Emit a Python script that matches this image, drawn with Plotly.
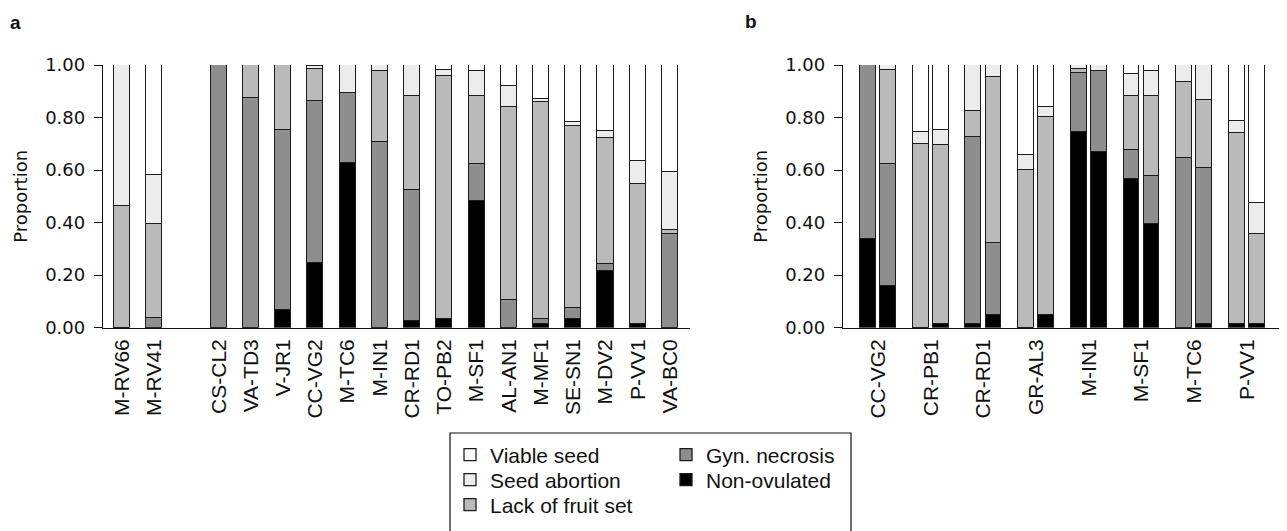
import plotly.graph_objects as go

# ---------------------------------------------------------------------------
# data (proportions of flowers per fate; segments stack bottom -> top)
# ---------------------------------------------------------------------------
SERIES = ["Non-ovulated", "Gyn. necrosis", "Lack of fruit set", "Seed abortion", "Viable seed"]
COLORS = ["#000000", "#8e8e8e", "#bababa", "#ececec", "#ffffff"]

# panel a: two groups separated by an empty slot
A_GROUP1 = ["M-RV66", "M-RV41"]
A_GROUP2 = ["CS-CL2", "VA-TD3", "V-JR1", "CC-VG2", "M-TC6", "M-IN1", "CR-RD1", "TO-PB2",
            "M-SF1", "AL-AN1", "M-MF1", "SE-SN1", "M-DV2", "P-VV1", "VA-BC0"]

a_non_ovulated = [0, 0, 0, 0, 0.067, 0.246, 0.626, 0, 0.027, 0.034, 0.483, 0, 0.014, 0.034, 0.216, 0.014, 0]
a_gyn_necrosis = [0, 0.038, 1.0, 0.876, 0.684, 0.616, 0.269, 0.707, 0.498, 0, 0.141, 0.107, 0.020, 0.042, 0.028, 0, 0.358]
a_lack_fruit = [0.465, 0.355, 0, 0.124, 0.249, 0.124, 0, 0.269, 0.358, 0.924, 0.258, 0.733, 0.826, 0.690, 0.479, 0.532, 0.013]
a_seed_abort = [0.535, 0.187, 0, 0, 0, 0.009, 0.105, 0.024, 0.117, 0.023, 0.096, 0.081, 0.010, 0.018, 0.026, 0.089, 0.223]
a_viable = [0, 0.420, 0, 0, 0, 0.005, 0, 0, 0, 0.019, 0.022, 0.079, 0.130, 0.216, 0.251, 0.365, 0.406]

# panel b: each population has two bars (first / second)
B_CATS = ["CC-VG2", "CR-PB1", "CR-RD1", "GR-AL3", "M-IN1", "M-SF1", "M-TC6", "P-VV1"]

b1_non_ovulated = [0.339, 0, 0.014, 0, 0.745, 0.567, 0, 0.016]
b1_gyn_necrosis = [0.661, 0, 0.712, 0, 0.223, 0.109, 0.645, 0]
b1_lack_fruit = [0, 0.700, 0.098, 0.600, 0.017, 0.207, 0.289, 0.726]
b1_seed_abort = [0, 0.044, 0.176, 0.059, 0.015, 0.081, 0.066, 0.044]
b1_viable = [0, 0.256, 0, 0.341, 0, 0.036, 0, 0.214]

b2_non_ovulated = [0.159, 0.014, 0.047, 0.047, 0.669, 0.396, 0.016, 0.016]
b2_gyn_necrosis = [0.465, 0, 0.274, 0, 0.307, 0.181, 0.591, 0]
b2_lack_fruit = [0.356, 0.680, 0.632, 0.756, 0, 0.306, 0.261, 0.339]
b2_seed_abort = [0.020, 0.060, 0.047, 0.036, 0.024, 0.093, 0.132, 0.121]
b2_viable = [0, 0.246, 0, 0.161, 0, 0.024, 0, 0.524]

Y_TICKS = [0, 0.2, 0.4, 0.6, 0.8, 1.0]

A_VALUES = [a_non_ovulated, a_gyn_necrosis, a_lack_fruit, a_seed_abort, a_viable]
B1_VALUES = [b1_non_ovulated, b1_gyn_necrosis, b1_lack_fruit, b1_seed_abort, b1_viable]
B2_VALUES = [b2_non_ovulated, b2_gyn_necrosis, b2_lack_fruit, b2_seed_abort, b2_viable]

# the page body has an 8px margin, so the figure starts at (8, 8) in the window
PAD = 8
W, H = 1287 - PAD, 531 - PAD


def fx(px):
    """window pixel x -> paper fraction"""
    return (px - PAD) / W


def fy(py):
    """window pixel y (from top) -> paper fraction"""
    return (H - (py - PAD)) / H


# one small legend per entry so the boxed two-column key can be placed exactly
# (window pixel x of legend left, window pixel y of row centre)
LEGEND_POS = {"Viable seed": ("legend", 450, 455), "Seed abortion": ("legend2", 450, 480),
              "Lack of fruit set": ("legend3", 450, 505), "Gyn. necrosis": ("legend4", 666, 455),
              "Non-ovulated": ("legend5", 666, 480)}

TICK_FONT = dict(family="DejaVu Sans", size=18, color="#111")
CAT_FONT = dict(family="Liberation Sans", size=21, color="#111")
LEG_FONT = dict(family="Liberation Sans", size=21, color="#111")
EDGE = dict(color="#1c1c1c", width=1.3)

# x positions: group 1 at 0,1 ; empty slot ; group 2 after it
a_cats = A_GROUP1 + A_GROUP2
a_x = list(range(len(A_GROUP1))) + [len(A_GROUP1) + 1 + i for i in range(len(A_GROUP2))]
b_off = 0.19
b_x1 = [i - b_off for i in range(len(B_CATS))]
b_x2 = [i + b_off for i in range(len(B_CATS))]

fig = go.Figure()
for name, col, va, v1, v2 in zip(SERIES, COLORS, A_VALUES, B1_VALUES, B2_VALUES):
    lg = LEGEND_POS[name][0]
    fig.add_trace(go.Bar(x=a_x, y=va, name=name, width=0.5,
                         marker=dict(color=col, line=EDGE),
                         legend=lg, xaxis="x", yaxis="y"))
    fig.add_trace(go.Bar(x=b_x1, y=v1, name=name, width=0.30, showlegend=False,
                         marker=dict(color=col, line=EDGE), xaxis="x2", yaxis="y2"))
    fig.add_trace(go.Bar(x=b_x2, y=v2, name=name, width=0.30, showlegend=False,
                         marker=dict(color=col, line=EDGE), xaxis="x2", yaxis="y2"))

xcommon = dict(showline=True, linecolor="#111", linewidth=1.3, ticks="", showgrid=False,
               zeroline=False, tickangle=-90, tickfont=CAT_FONT, fixedrange=True,
               automargin=False, ticklabelstandoff=2)
ycommon = dict(range=[0, 1], tickvals=Y_TICKS, tickformat=".2f", showline=True,
               linecolor="#111", linewidth=1.3, ticks="outside", ticklen=8, tickcolor="#111",
               tickwidth=1.3, showgrid=False, zeroline=False, tickfont=TICK_FONT,
               automargin=False, domain=[fy(327.7), fy(65)], ticklabelstandoff=5,
               title=dict(text="Proportion", font=TICK_FONT, standoff=12))

legends = {}
for name, (key, px, py) in LEGEND_POS.items():
    legends[key] = dict(x=fx(px), y=fy(py), xanchor="left", yanchor="middle",
                        bgcolor="rgba(0,0,0,0)", font=LEG_FONT, borderwidth=0)

fig.update_layout(
    width=W, height=H, barmode="stack", bargap=0,
    margin=dict(l=0, r=0, t=0, b=0, autoexpand=False),
    plot_bgcolor="white", paper_bgcolor="white",
    xaxis=dict(xcommon, domain=[fx(103), fx(690)], range=[-0.59, 17.62],
               tickvals=a_x, ticktext=a_cats, anchor="y"),
    yaxis=dict(ycommon, anchor="x"),
    xaxis2=dict(xcommon, domain=[fx(843), fx(1283)], range=[-0.664, 7.685],
                tickvals=list(range(len(B_CATS))), ticktext=B_CATS, anchor="y2"),
    yaxis2=dict(ycommon, anchor="x2"),
    shapes=[dict(type="rect", xref="paper", yref="paper", x0=fx(450), x1=fx(851),
                 y0=-0.1, y1=fy(433), line=dict(color="#111", width=1.2))],
    annotations=[
        dict(text="<b>a</b>", x=fx(15), y=fy(23), xref="paper", yref="paper",
             xanchor="center", yanchor="middle", showarrow=False,
             font=dict(family="Liberation Sans", size=19, color="#111")),
        dict(text="<b>b</b>", x=fx(751), y=fy(21), xref="paper", yref="paper",
             xanchor="center", yanchor="middle", showarrow=False,
             font=dict(family="Liberation Sans", size=19, color="#111")),
    ],
    **legends,
)

fig.write_html("out.html")
